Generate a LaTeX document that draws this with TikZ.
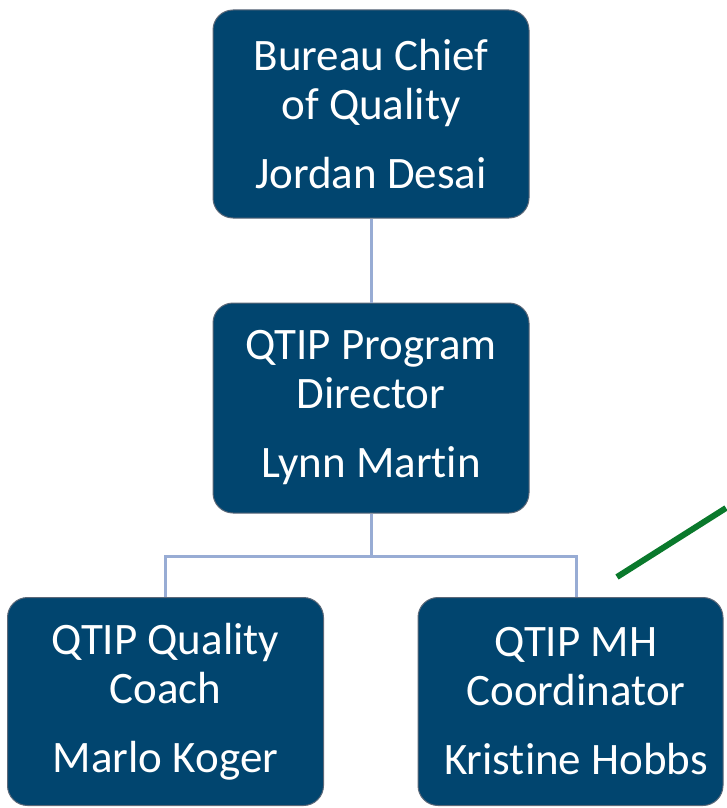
\documentclass[tikz,border=0pt]{standalone}
\usepackage{fontspec}
\setmainfont{Carlito}[Ligatures=NoCommon]
\usetikzlibrary{positioning}
\definecolor{boxblue}{RGB}{1,69,111}
\definecolor{boxedge}{RGB}{92,104,120}
\definecolor{linkblue}{RGB}{152,172,212}
\definecolor{markgreen}{RGB}{10,121,44}
\tikzset{
	posttext/.style={text=white,align=center,inner sep=0pt,
		minimum width=316pt,minimum height=208pt,
		font=\fontsize{45}{49}\selectfont},
	postbox/.style={draw=boxedge,line width=1pt,fill=boxblue,rounded corners=20pt},
	post/.style={posttext,postbox},
	link/.style={draw=linkblue,line width=3pt},
	marker/.style={draw=markgreen,line width=6pt}
}
\begin{document}
\begin{tikzpicture}[x=1pt,y=-1pt]
		\useasboundingbox (0,0) rectangle (726,808);
		% posts
			\node[post] (chief) at (371,114) {Bureau Chief\\of Quality\\[20pt]Jordan Desai};
			\node[post,minimum height=210pt] (director) at (371,408) {QTIP Program\\Director\\[20pt]Lynn Martin};
			\node[post] (coach) at (165.5,701.5) {QTIP Quality\\Coach\\[20pt]Marlo Koger};
			\draw[postbox] (418,597.5) rectangle (723,805.5);
			\node[posttext] (mhcoord) at (576,701.5) {QTIP MH\\Coordinator\\[20pt]Kristine Hobbs};
		% reporting lines
			\coordinate (split) at (371,556);
			\draw[link] (chief.south) -- (director.north);
			\draw[link] (director.south) -- (split);
			\draw[link] (split) -| (coach.north);
			\draw[link] (split) -| (mhcoord.north);
		% green mark
			\coordinate (marktail) at (617,577);
			\coordinate (markhead) at (726,508);
			\draw[marker] (marktail) -- (markhead);
	\end{tikzpicture}
\end{document}
